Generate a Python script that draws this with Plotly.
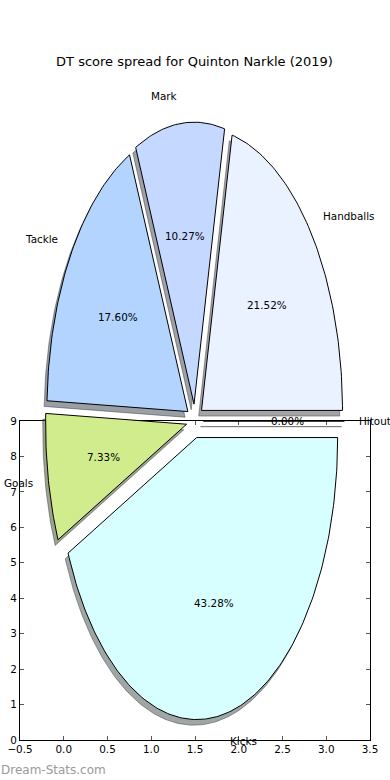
import numpy as np
import plotly.graph_objects as go

# ---------------- data ----------------
title = "DT score spread for Quinton Narkle (2019)"
categories = ["Handballs", "Mark", "Tackle", "Goals", "Kicks", "Hitout"]
shares = [21.52, 10.27, 17.60, 7.33, 43.28, 0.00]
colors = ["#ebf2ff", "#c5d8ff", "#b3d4ff", "#d0ec8c", "#d8ffff", "#ffe4c4"]

x_ticks = [-0.5, 0.0, 0.5, 1.0, 1.5, 2.0, 2.5, 3.0, 3.5]
y_ticks = [0, 1, 2, 3, 4, 5, 6, 7, 8, 9]
x_tick_labels = [f"{v:.1f}".replace("-", "\u2212") for v in x_ticks]
y_tick_labels = [str(v) for v in y_ticks]
watermark = "Dream-Stats.com"

# ---------------- pie styling ----------------
EXPLODE = 0.06
LABEL_DIST = 1.1
PCT_DIST = 0.6
SHADOW_DX, SHADOW_DY = -0.02, -0.02
FONT = "DejaVu Sans"
FS = 10.4

W, H = 390, 780
# main (cartesian) axes box, in pixels
AX_L, AX_R, AX_T, AX_B = 20, 370, 421, 740

# pie axes (radius = 1) mapped over the whole figure
PIE_CX, PIE_CY = 194.9, 421.0     # pixel centre of pie
PIE_RX, PIE_RY = 141.0, 282.0     # pixels per pie unit
x2_range = [(0 - PIE_CX) / PIE_RX, (W - PIE_CX) / PIE_RX]
y2_range = [(PIE_CY - H) / PIE_RY, (PIE_CY - 0) / PIE_RY]


def hex_to_rgb(h):
    h = h.lstrip("#")
    return tuple(int(h[i:i + 2], 16) for i in (0, 2, 4))


total = float(sum(shares))
bounds = np.concatenate([[0.0], np.cumsum(shares) / total * 360.0])

fig = go.Figure()

# anchor trace so the main axes are drawn
fig.add_trace(go.Scatter(x=[], y=[], xaxis="x", yaxis="y", showlegend=False,
                         hoverinfo="skip"))

wedges = []
for i, name in enumerate(categories):
    t1, t2 = bounds[i], bounds[i + 1]
    mid = np.deg2rad((t1 + t2) / 2.0)
    dx, dy = EXPLODE * np.cos(mid), EXPLODE * np.sin(mid)
    n = max(2, int(abs(t2 - t1)) + 2)
    arc = np.deg2rad(np.linspace(t1, t2, n))
    xs = np.concatenate([[dx], dx + np.cos(arc), [dx]])
    ys = np.concatenate([[dy], dy + np.sin(arc), [dy]])
    wedges.append((name, xs, ys, dx, dy, mid, shares[i] / total * 100.0, colors[i]))

# shadows first (beneath every wedge)
for name, xs, ys, dx, dy, mid, pct, col in wedges:
    r, g, b = hex_to_rgb(col)
    sc = f"rgba({0.3 * r:.0f},{0.3 * g:.0f},{0.3 * b:.0f},0.5)"
    fig.add_trace(go.Scatter(
        x=xs + SHADOW_DX, y=ys + SHADOW_DY, mode="lines", fill="toself",
        fillcolor=sc, line=dict(color=sc, width=1),
        xaxis="x2", yaxis="y2", showlegend=False, hoverinfo="skip"))

for name, xs, ys, dx, dy, mid, pct, col in wedges:
    fig.add_trace(go.Scatter(
        x=xs, y=ys, mode="lines", fill="toself", fillcolor=col,
        line=dict(color="black", width=1),
        xaxis="x2", yaxis="y2", showlegend=False, name=name, hoverinfo="skip"))

annotations = []
for name, xs, ys, dx, dy, mid, pct, col in wedges:
    lx = dx + LABEL_DIST * np.cos(mid)
    ly = dy + LABEL_DIST * np.sin(mid)
    annotations.append(dict(
        x=lx, y=ly, xref="x2", yref="y2", text=name, showarrow=False,
        xanchor="left" if lx > 0 else "right", yanchor="middle", borderpad=0,
        font=dict(family=FONT, size=FS, color="black")))
    px_ = dx + PCT_DIST * np.cos(mid)
    py_ = dy + PCT_DIST * np.sin(mid)
    annotations.append(dict(
        x=px_, y=py_, xref="x2", yref="y2", text=f"{pct:.2f}%", showarrow=False,
        xanchor="center", yanchor="middle", borderpad=0,
        font=dict(family=FONT, size=FS, color="black")))

annotations.append(dict(
    x=0, y=1 - 770 / H, xref="paper", yref="paper", text=watermark,
    showarrow=False, xanchor="left", yanchor="middle", borderpad=0,
    font=dict(family=FONT, size=12, color="#9a9a9a")))

axis_common = dict(showline=True, linecolor="black", linewidth=1, mirror="ticks",
                   ticks="inside", ticklen=4, tickwidth=1, tickcolor="#555",
                   showgrid=False, zeroline=False, automargin=False,
                   tickfont=dict(family=FONT, size=FS, color="black"))

fig.update_layout(
    width=W, height=H,
    margin=dict(l=0, r=0, t=0, b=0, pad=0, autoexpand=False),
    paper_bgcolor="white", plot_bgcolor="rgba(0,0,0,0)",
    font=dict(family=FONT, color="black"),
    title=dict(text=title, x=194.5 / W, y=1 - 61 / H, xref="container",
               yref="container", xanchor="center", yanchor="middle",
               font=dict(family=FONT, size=13, color="black")),
    xaxis=dict(range=[x_ticks[0], x_ticks[-1]], domain=[AX_L / W, AX_R / W],
               tickvals=x_ticks, ticktext=x_tick_labels, **axis_common),
    yaxis=dict(range=[y_ticks[0], y_ticks[-1]],
               domain=[1 - AX_B / H, 1 - AX_T / H],
               tickvals=y_ticks, ticktext=y_tick_labels, **axis_common),
    xaxis2=dict(range=x2_range, domain=[0, 1], anchor="y2", visible=False,
                fixedrange=True),
    yaxis2=dict(range=y2_range, domain=[0, 1], anchor="x2", visible=False,
                fixedrange=True),
    annotations=annotations,
    showlegend=False,
)

fig.write_html(
    "out.html",
    config={"displayModeBar": False},
    post_script="document.body.style.margin='0px';"
                "document.body.style.overflow='hidden';",
)
